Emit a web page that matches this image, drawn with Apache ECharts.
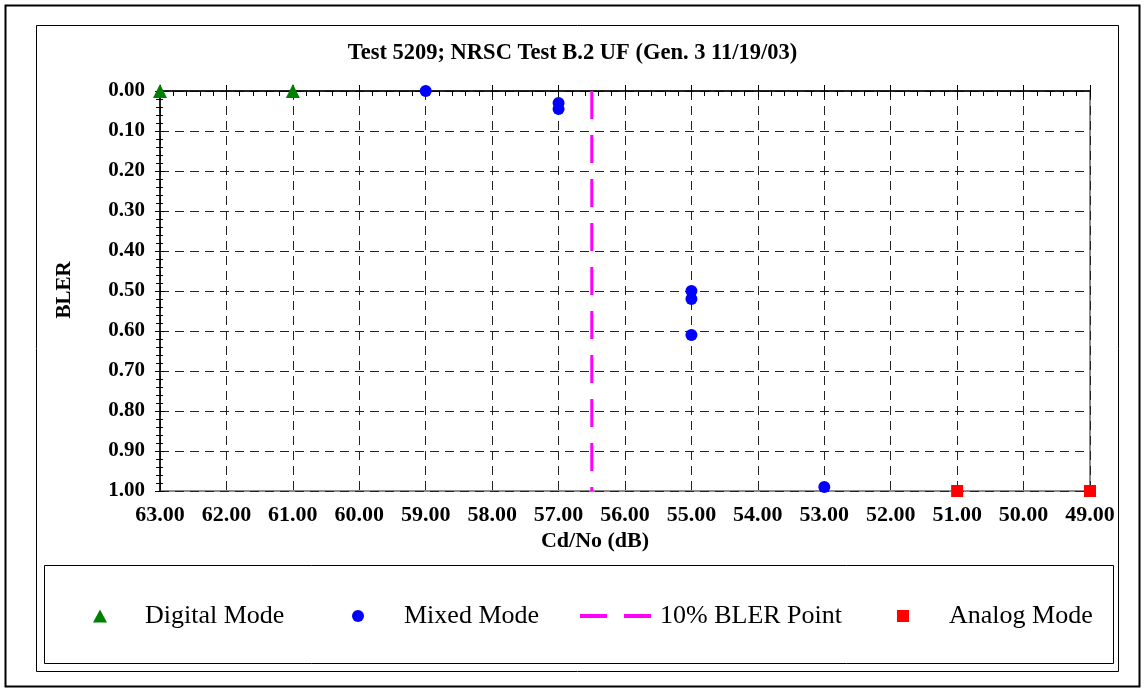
<!DOCTYPE html>
<html>
<head>
<meta charset="utf-8">
<script src="https://cdn.jsdelivr.net/npm/echarts@6/dist/echarts.min.js"></script>
<style>
html,body{margin:0;padding:0;background:#fff;}
#chart{width:1145px;height:690px;}
</style>
</head>
<body>
<div id="chart"></div>
<script>
// ---- data ----
const titleText = 'Test 5209; NRSC Test B.2 UF (Gen. 3 11/19/03)';
const xName = 'Cd/No (dB)';
const yName = 'BLER';
const seriesNames = ['Digital Mode', 'Mixed Mode', '10% BLER Point', 'Analog Mode'];
const digitalX = [63, 61];
const digitalY = [0.00, 0.00];
const mixedX = [59, 57, 57, 55, 55, 55, 53];
const mixedY = [0.00, 0.03, 0.045, 0.50, 0.52, 0.61, 0.99];
const blerX = [56.5, 56.5];
const blerY = [0.00, 1.00];
const analogX = [51, 49];
const analogY = [1.00, 1.00];
const xMin = 49, xMax = 63, xStep = 1;
const yMin = 0, yMax = 1, yStep = 0.1;

const pairs = (xs, ys) => xs.map((x, i) => [x, ys[i]]);

const FONT = '"Liberation Serif", "Times New Roman", serif';
const gridDash = { color: '#222', width: 1, type: [9, 6] };

const chart = echarts.init(document.getElementById('chart'), null, { renderer: 'canvas' });

const baseX = { type: 'value', min: xMin, max: xMax, interval: xStep, inverse: true, gridIndex: 0 };
const baseY = { type: 'value', min: yMin, max: yMax, interval: yStep, inverse: true, gridIndex: 0 };

const legendText = { fontFamily: FONT, fontSize: 26, color: '#000' };

const option = {
  backgroundColor: '#fff',
  animation: false,
  title: {
    text: titleText, left: 'center', top: 37,
    textStyle: { fontFamily: FONT, fontWeight: 'bold', fontSize: 22.5, color: '#000' }
  },
  grid: { left: 160, right: 55, top: 91, bottom: 199, show: true, borderColor: '#8c8c8c', borderWidth: 2, backgroundColor: 'transparent' },
  xAxis: [
    Object.assign({}, baseX, {
      position: 'top',
      axisLine: { show: true, lineStyle: { color: '#000', width: 1.5 } },
      axisTick: { show: true, inside: true, length: 6, lineStyle: { color: '#000' } },
      minorTick: { show: true, splitNumber: 5, length: 5, lineStyle: { color: '#000' } },
      axisLabel: { show: false },
      splitLine: { show: true, lineStyle: gridDash }
    }),
    Object.assign({}, baseX, {
      position: 'top',
      axisLine: { show: false },
      axisTick: { show: true, inside: false, length: 6, lineStyle: { color: '#000' } },
      axisLabel: { show: false },
      splitLine: { show: false }
    }),
    Object.assign({}, baseX, {
      position: 'bottom',
      axisLine: { show: false },
      axisTick: { show: false },
      axisLabel: { show: true, margin: 13, formatter: v => v.toFixed(2),
        fontFamily: FONT, fontWeight: 'bold', fontSize: 22, color: '#000' },
      splitLine: { show: false }
    })
  ],
  yAxis: [
    Object.assign({}, baseY, {
      position: 'left',
      axisLine: { show: true, lineStyle: { color: '#000', width: 1.5 } },
      axisTick: { show: true, inside: false, length: 5, lineStyle: { color: '#000' } },
      minorTick: { show: true, splitNumber: 5, length: 4, lineStyle: { color: '#000' } },
      axisLabel: { show: true, margin: 15, formatter: v => v.toFixed(2),
        fontFamily: FONT, fontWeight: 'bold', fontSize: 21, color: '#000' },
      splitLine: { show: true, lineStyle: gridDash }
    }),
    Object.assign({}, baseY, {
      position: 'left',
      axisLine: { show: false },
      axisTick: { show: true, inside: true, length: 4, lineStyle: { color: '#000' } },
      minorTick: { show: true, splitNumber: 5, length: 3, lineStyle: { color: '#000' } },
      axisLabel: { show: false },
      splitLine: { show: false }
    })
  ],
  legend: [
    { data: [seriesNames[0]], left: 93, top: 603, padding: 0, itemWidth: 14, itemHeight: 13,
      textStyle: Object.assign({ padding: [0, 0, 0, 33] }, legendText) },
    { data: [seriesNames[1]], left: 352, top: 603, padding: 0, itemWidth: 12, itemHeight: 12,
      textStyle: Object.assign({ padding: [0, 0, 0, 35] }, legendText) },
    { data: [seriesNames[2]], left: 578, top: 603, padding: 0, itemWidth: 72, itemHeight: 14,
      lineStyle: { color: '#FF00FF', width: 4, type: [27, 17] },
      itemStyle: { color: 'rgba(0,0,0,0)', opacity: 0, borderWidth: 0 },
      textStyle: Object.assign({ padding: [0, 0, 0, 3] }, legendText) },
    { data: [seriesNames[3]], left: 897, top: 603, padding: 0, itemWidth: 12, itemHeight: 12,
      textStyle: Object.assign({ padding: [0, 0, 0, 35] }, legendText) }
  ],
  graphic: [
    { type: 'rect', z: -10, shape: { x: 5.5, y: 5.5, width: 1134, height: 681 }, style: { fill: 'none', stroke: '#000', lineWidth: 2 } },
    { type: 'rect', z: -10, shape: { x: 36.5, y: 25.5, width: 1082, height: 646 }, style: { fill: 'none', stroke: '#000', lineWidth: 1 } },
    { type: 'rect', z: -10, shape: { x: 44.5, y: 565.5, width: 1069, height: 98 }, style: { fill: 'none', stroke: '#000', lineWidth: 1 } },
    { type: 'text', z: 5, x: 595, y: 541,
      style: { text: xName, fill: '#000', font: 'bold 22px ' + FONT, textAlign: 'center', textVerticalAlign: 'middle' } },
    { type: 'text', z: 5, rotation: Math.PI / 2, x: 65, y: 290,
      style: { text: yName, fill: '#000', font: 'bold 21px ' + FONT, textAlign: 'center', textVerticalAlign: 'middle' } }
  ],
  series: [
    { name: seriesNames[0], type: 'scatter', xAxisIndex: 0, yAxisIndex: 0, symbol: 'triangle', symbolSize: 14,
      itemStyle: { color: '#008000', opacity: 1 }, data: pairs(digitalX, digitalY), z: 4 },
    { name: seriesNames[1], type: 'scatter', xAxisIndex: 0, yAxisIndex: 0, symbol: 'circle', symbolSize: 12,
      itemStyle: { color: '#0000FF', opacity: 1 }, data: pairs(mixedX, mixedY), z: 4 },
    { name: seriesNames[2], type: 'line', xAxisIndex: 0, yAxisIndex: 0, symbol: 'none',
      lineStyle: { color: '#FF00FF', width: 3, type: [28, 16] }, itemStyle: { color: '#FF00FF' },
      data: pairs(blerX, blerY), z: 3 },
    { name: seriesNames[3], type: 'scatter', xAxisIndex: 0, yAxisIndex: 0, symbol: 'rect', symbolSize: 12,
      itemStyle: { color: '#FF0000', opacity: 1 }, data: pairs(analogX, analogY), z: 4 }
  ]
};
chart.setOption(option);
</script>
</body>
</html>
